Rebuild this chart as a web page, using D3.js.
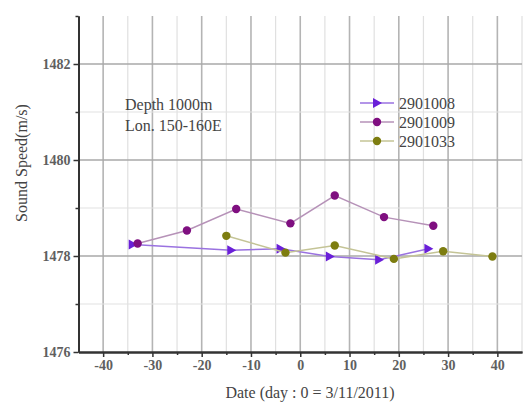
<!DOCTYPE html>
<html>
<head>
<meta charset="utf-8">
<script src="https://cdn.jsdelivr.net/npm/d3@7"></script>
<style>
  body { margin: 0; background: #fff; }
  text { font-family: "Liberation Serif", "DejaVu Serif", serif; fill: #444; }
</style>
</head>
<body>
<svg id="chart" width="531" height="403"></svg>
<script>
// datos
const xTicks = [-40, -30, -20, -10, 0, 10, 20, 30, 40];
const yTicks = [1476, 1478, 1480, 1482];

const days08 = [-34, -14, -4, 6, 16, 26];
const speed08 = [1478.24, 1478.12, 1478.15, 1477.99, 1477.92, 1478.15];

const days09 = [-33, -23, -13, -2, 7, 17, 27];
const speed09 = [1478.26, 1478.53, 1478.98, 1478.68, 1479.26, 1478.81, 1478.63];

const days33 = [-15, -3, 7, 19, 29, 39];
const speed33 = [1478.42, 1478.07, 1478.22, 1477.94, 1478.10, 1477.99];

const series = [
  { name: "2901008", days: days08, speed: speed08, marker: "#6a1fd8", line: "#9a72e0", shape: "tri" },
  { name: "2901009", days: days09, speed: speed09, marker: "#7f0f80", line: "#b692b8", shape: "circle" },
  { name: "2901033", days: days33, speed: speed33, marker: "#7d7d10", line: "#c4c496", shape: "circle" }
];

const svg = d3.select("#chart");
const x = d3.scaleLinear().domain([-45, 45]).range([78.5, 522]);
const y = d3.scaleLinear().domain([1476, 1483]).range([352, 16]);

// rejilla
const g = svg.append("g");
d3.range(-45, 46, 5).forEach(v => {
  if (v === -45) return;
  const major = v % 10 === 0;
  g.append("line")
    .attr("x1", x(v)).attr("x2", x(v))
    .attr("y1", y(1483)).attr("y2", y(1476))
    .attr("stroke", major ? "#b4b4b4" : "#e0e0e0")
    .attr("stroke-width", major ? 1.6 : 1.2);
});
d3.range(1477, 1483, 1).forEach(v => {
  const major = v % 2 === 0;
  g.append("line")
    .attr("x1", x(-45)).attr("x2", x(45))
    .attr("y1", y(v)).attr("y2", y(v))
    .attr("stroke", major ? "#a8a8a8" : "#e2e2e2")
    .attr("stroke-width", major ? 1.6 : 1.2);
});

// ejes
const fmt = d => String(d);
const xAxis = svg.append("g").attr("transform", `translate(0,${y(1476)})`)
  .call(d3.axisBottom(x).tickValues(xTicks).tickFormat(fmt).tickSize(5).tickPadding(3).tickSizeOuter(0));
const xMinor = svg.append("g").attr("transform", `translate(0,${y(1476)})`)
  .call(d3.axisBottom(x).tickValues(d3.range(-35, 45, 10)).tickSize(3).tickFormat("").tickSizeOuter(0));
const yAxis = svg.append("g").attr("transform", `translate(${x(-45)},0)`)
  .call(d3.axisLeft(y).tickValues(yTicks).tickFormat(fmt).tickSize(5).tickPadding(3).tickSizeOuter(0));
const yMinor = svg.append("g").attr("transform", `translate(${x(-45)},0)`)
  .call(d3.axisLeft(y).tickValues([1477, 1479, 1481, 1483]).tickSize(3).tickFormat("").tickSizeOuter(0));

[xAxis, xMinor, yAxis, yMinor].forEach(a => {
  a.select(".domain").attr("stroke", "#333").attr("stroke-width", 2);
  a.selectAll(".tick line").attr("stroke", "#333").attr("stroke-width", 1.5);
  a.selectAll("text").attr("font-family", "Liberation Serif").attr("font-size", 14)
    .attr("fill", "#444").attr("font-weight", "bold").attr("opacity", 0.85);
});

// lineas y marcadores
series.forEach(s => {
  const pts = s.days.map((d, i) => ({ day: d, speed: s.speed[i] }));
  svg.append("path")
    .datum(pts)
    .attr("fill", "none")
    .attr("stroke", s.line)
    .attr("stroke-width", 1.5)
    .attr("d", d3.line().x(d => x(d.day)).y(d => y(d.speed)));
  if (s.shape === "tri") {
    svg.selectAll(null).data(pts).enter().append("path")
      .attr("d", "M-4,-5L5,0L-4,5Z")
      .attr("transform", d => `translate(${x(d.day)},${y(d.speed)})`)
      .attr("fill", s.marker);
  } else {
    svg.selectAll(null).data(pts).enter().append("circle")
      .attr("cx", d => x(d.day)).attr("cy", d => y(d.speed))
      .attr("r", 4.2).attr("fill", s.marker);
  }
});

// anotacion
svg.append("text").attr("x", 125).attr("y", 110).attr("font-size", 16).text("Depth 1000m");
svg.append("text").attr("x", 125).attr("y", 131).attr("font-size", 16).text("Lon. 150-160E");

// leyenda
series.forEach((s, i) => {
  const ly = 103 + i * 19;
  svg.append("line").attr("x1", 360).attr("x2", 394).attr("y1", ly).attr("y2", ly)
    .attr("stroke", s.line).attr("stroke-width", 1.5);
  if (s.shape === "tri") {
    svg.append("path").attr("d", "M-4,-5L5,0L-4,5Z")
      .attr("transform", `translate(377,${ly})`).attr("fill", s.marker);
  } else {
    svg.append("circle").attr("cx", 377).attr("cy", ly).attr("r", 4.2).attr("fill", s.marker);
  }
  svg.append("text").attr("x", 399).attr("y", ly + 5.5).attr("font-size", 16).text(s.name);
});

// titulos de ejes
svg.append("text").attr("x", 310).attr("y", 398).attr("text-anchor", "middle")
  .attr("font-size", 16).text("Date (day : 0 = 3/11/2011)");
svg.append("text").attr("transform", "translate(27,163) rotate(-90)")
  .attr("text-anchor", "middle").attr("font-size", 16).text("Sound Speed(m/s)");
</script>
</body>
</html>
